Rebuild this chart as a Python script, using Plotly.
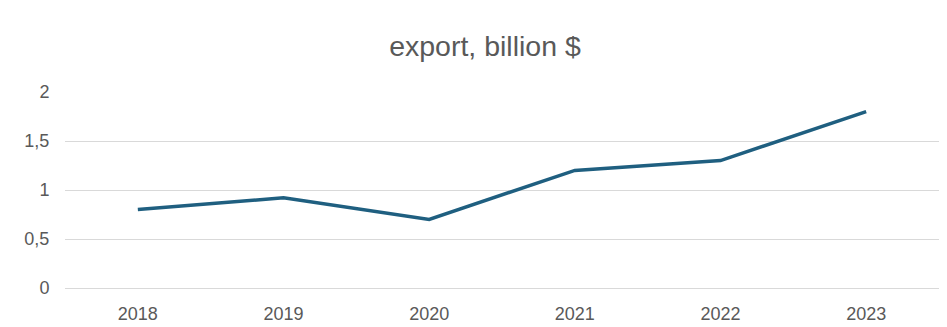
import plotly.graph_objects as go

years = ["2018", "2019", "2020", "2021", "2022", "2023"]
export = [0.80, 0.92, 0.70, 1.20, 1.30, 1.80]
y_ticks = [0, 0.5, 1, 1.5, 2]
y_tick_labels = ["0", "0,5", "1", "1,5", "2"]

fig = go.Figure()
fig.add_trace(go.Scatter(
    x=years, y=export, mode="lines",
    line=dict(color="#1f5f80", width=3.5),
    hoverinfo="x+y",
))

fig.update_layout(
    width=947, height=327,
    margin=dict(l=65, r=8, t=92, b=39),
    paper_bgcolor="white", plot_bgcolor="white",
    font=dict(family="Liberation Sans, Arial, sans-serif", color="#595959", size=18),
    title=dict(text="export, billion $", x=485 / 947, xanchor="center",
               y=1 - 46/327, yanchor="middle",
               font=dict(size=28.5, color="#595959")),
    showlegend=False,
    xaxis=dict(type="category", range=[-0.5, len(years) - 0.5],
               showgrid=False, showline=False, zeroline=False, automargin=False,
               ticks="outside", ticklen=9, tickcolor="rgba(0,0,0,0)",
               tickfont=dict(size=18, color="#595959")),
    yaxis=dict(range=[0, 2], tickvals=y_ticks, ticktext=y_tick_labels, automargin=False,
               showgrid=True, gridcolor="#d9d9d9", gridwidth=1,
               zeroline=True, zerolinecolor="#d9d9d9", zerolinewidth=1,
               showline=False, ticks="outside", ticklen=11, tickcolor="rgba(0,0,0,0)",
               tickfont=dict(size=18, color="#595959")),
)

fig.write_html("out.html")
